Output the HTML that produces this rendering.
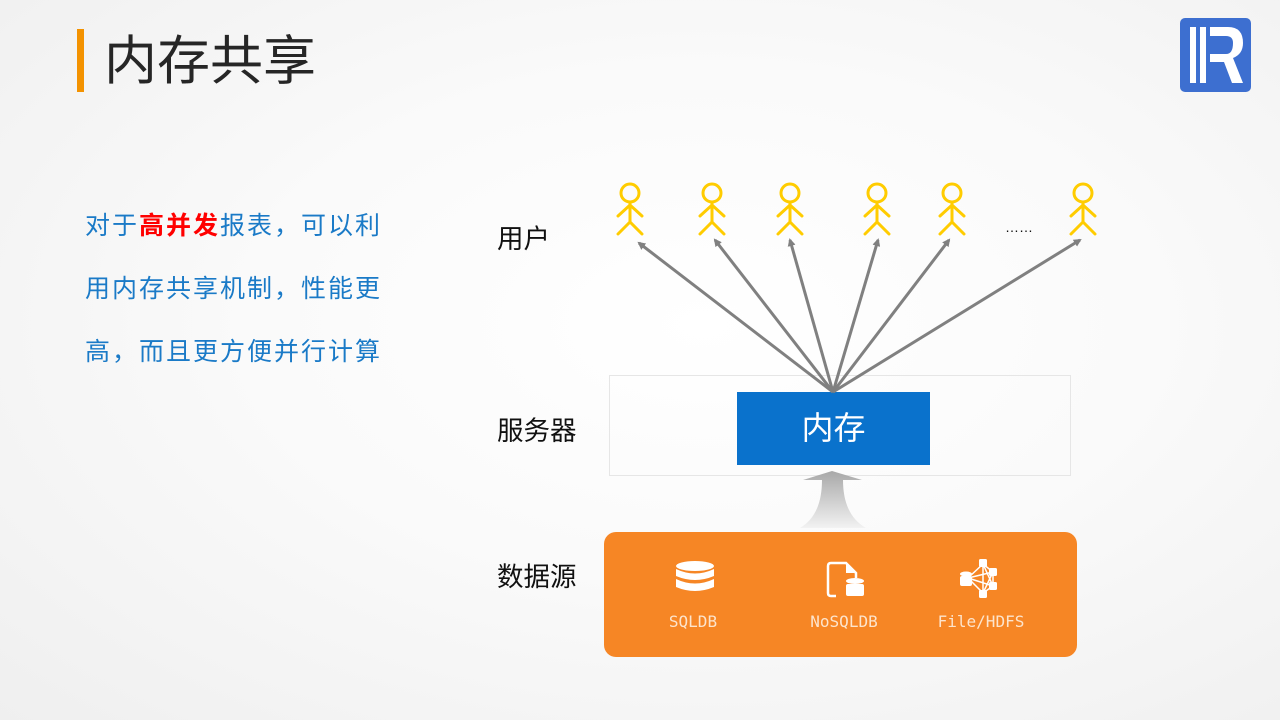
<!DOCTYPE html>
<html><head><meta charset="utf-8"><style>
html,body{margin:0;padding:0}
body{width:1280px;height:720px;position:relative;overflow:hidden;background:radial-gradient(ellipse at 55% 45%,#ffffff 0%,#fafafa 45%,#efefef 100%);font-family:"Liberation Sans","Noto Sans CJK SC",sans-serif}
.a{position:absolute}
.title{left:104px;top:30px;font-size:53px;color:#262626;line-height:64px;white-space:nowrap}
.bar{left:77px;top:29px;width:7px;height:63px;background:#f39200}
.body{left:85px;top:195px;font-size:25px;line-height:63px;color:#1a7ac7;letter-spacing:2px;white-space:nowrap}
.lab{font-size:26.5px;color:#111;white-space:nowrap}
</style></head><body>
<div class="a bar"></div>
<div class="a title">内存共享</div>
<div class="a" style="left:1180px;top:18px;width:71px;height:74px;background:#3d6fd0;border-radius:5px"></div>
<svg class="a" style="left:1180px;top:18px" width="71" height="74">
<rect x="10" y="9" width="6" height="56" fill="#fff"/><rect x="20" y="9" width="6" height="56" fill="#fff"/>
<path d="M30 9 H48 Q63 9 63 25 Q63 36 53 40 L63 65 H52 L44 44 H30 V36 H46 Q53 36 53 25 Q53 18 46 18 H30 Z" fill="#fff"/>
</svg>
<div class="a body">对于<b style="color:#f00;font-weight:bold">高并发</b>报表，可以利<br>用内存共享机制，性能更<br>高，而且更方便并行计算</div>
<div class="a lab" style="left:497px;top:217px">用户</div>
<div class="a lab" style="left:497px;top:409px">服务器</div>
<div class="a lab" style="left:497px;top:555px">数据源</div>
<div class="a" style="left:609px;top:375px;width:462px;height:101px;border:1px solid #e6e6e6;box-sizing:border-box"></div>
<div class="a" style="left:737px;top:392px;width:193px;height:73px;background:#0a72cc;color:#fff;font-size:32px;text-align:center;line-height:73px">内存</div>
<div class="a" style="left:604px;top:532px;width:473px;height:125px;background:#f68625;border-radius:12px"></div>
<svg class="a" style="left:0;top:0" width="1280" height="720">
<defs>
<marker id="m" markerWidth="8" markerHeight="8" refX="6" refY="4" orient="auto" markerUnits="userSpaceOnUse"><path d="M0,0 L8,4 L0,8 Z" fill="#808080"/></marker>
<linearGradient id="g" x1="0" y1="0" x2="0" y2="1"><stop offset="0" stop-color="#a8a8a8"/><stop offset="1" stop-color="#f2f2f2"/></linearGradient>
</defs>
<g stroke="#808080" stroke-width="3" marker-end="url(#m)">
<line x1="833" y1="392" x2="639" y2="243"/>
<line x1="833" y1="392" x2="715" y2="240"/>
<line x1="833" y1="392" x2="790" y2="240"/>
<line x1="833" y1="392" x2="878" y2="240"/>
<line x1="833" y1="392" x2="949" y2="240"/>
<line x1="833" y1="392" x2="1080" y2="240"/>
</g>
<g stroke="#ffcc00" stroke-width="3" fill="none" stroke-linecap="round">
<g id="u"><circle cx="630" cy="193" r="9"/><path d="M630 202 V222 M618 216 L630 205 L642 216 M618 234 L630 222 L642 234"/></g>
<use href="#u" x="82"/><use href="#u" x="160"/><use href="#u" x="247"/><use href="#u" x="322"/><use href="#u" x="453"/>
</g>
<text x="1005" y="232" font-size="14" fill="#111" font-family="Liberation Sans">……</text>
<path d="M832 471 L862 480 L843 480 Q843 515 866 528 L800 528 Q822 515 822 480 L803 480 Z" fill="url(#g)"/>
<g fill="#fff">
<ellipse cx="695" cy="566" rx="19" ry="5"/>
<path d="M676 569 Q695 578 714 569 V576 Q695 584 676 576 Z"/>
<path d="M676 579 Q695 588 714 579 V587 Q695 595 676 587 Z"/>
</g>
<g fill="none" stroke="#fff" stroke-width="2.5">
<path d="M836 596 H831 Q828 596 828 593 V566 Q828 563 831 563 H846 L856 573 V578"/>
</g>
<path d="M846 563 V573 H856 Z" fill="#fff"/>
<g fill="#fff"><ellipse cx="855" cy="581" rx="9" ry="3"/><rect x="846" y="584" width="18" height="12" rx="2"/></g>
<g stroke="#fff" stroke-width="1.5" fill="none">
<path d="M968 578 L983 564 L993 572 L993 586 L983 593 Z M968 578 L993 572 M968 578 L993 586 M983 564 L983 593 M983 564 L993 586 M983 593 L993 572"/>
</g>
<g fill="#fff">
<rect x="979" y="559" width="8" height="8" rx="1.5"/><rect x="989" y="568" width="8" height="8" rx="1.5"/><rect x="989" y="582" width="8" height="8" rx="1.5"/><rect x="979" y="590" width="8" height="8" rx="1.5"/>
<ellipse cx="966" cy="574" rx="6" ry="2.5"/><rect x="960" y="576" width="12" height="10" rx="2"/>
</g>
<g fill="#fde4cc" font-family="DejaVu Sans Mono,Liberation Mono,monospace" font-size="16" text-anchor="middle">
<text x="693" y="627">SQLDB</text><text x="844" y="627">NoSQLDB</text><text x="981" y="627">File/HDFS</text>
</g>
</svg>
</body></html>
